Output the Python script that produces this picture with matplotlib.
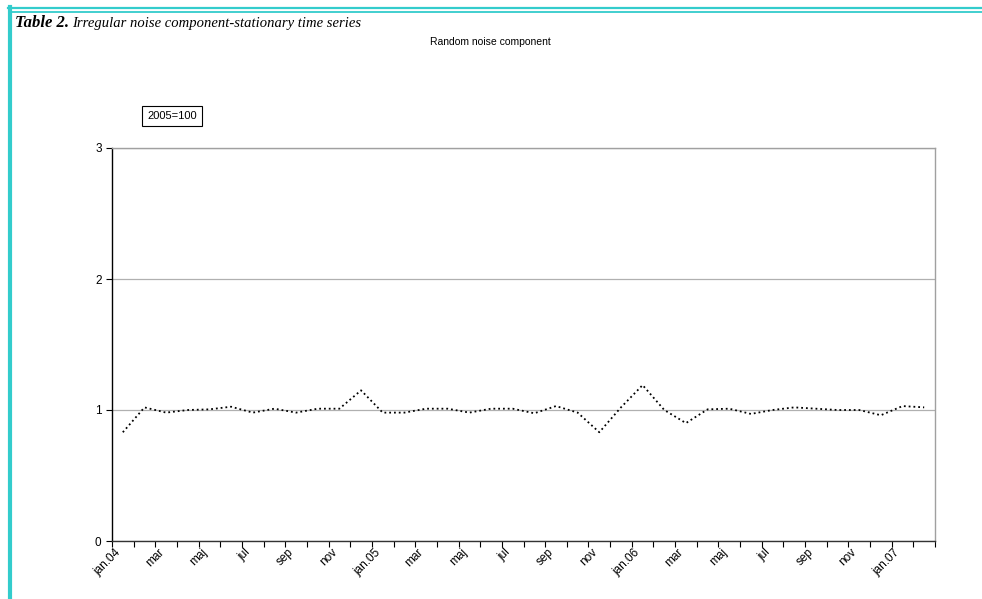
import matplotlib.pyplot as plt
from matplotlib.lines import Line2D

# monthly labels jan.04 .. feb.07
months = ['jan.04', 'feb', 'mar', 'apr', 'maj', 'jun', 'jul', 'aug', 'sep', 'okt', 'nov', 'dec',
          'jan.05', 'feb', 'mar', 'apr', 'maj', 'jun', 'jul', 'aug', 'sep', 'okt', 'nov', 'dec',
          'jan.06', 'feb', 'mar', 'apr', 'maj', 'jun', 'jul', 'aug', 'sep', 'okt', 'nov', 'dec',
          'jan.07', 'feb']
noise = [0.83, 1.02, 0.98, 1.00, 1.005, 1.025, 0.98, 1.01, 0.98, 1.01, 1.01, 1.15,
         0.98, 0.98, 1.01, 1.01, 0.98, 1.01, 1.01, 0.975, 1.03, 0.98, 0.83, 1.02,
         1.19, 1.00, 0.90, 1.005, 1.01, 0.97, 1.00, 1.02, 1.01, 1.00, 1.00, 0.96, 1.03, 1.02]
yticks = [0, 1, 2, 3]

W, H = 982, 599
fig = plt.figure(figsize=(W / 100, H / 100), dpi=100)
plt.rcParams['font.family'] = ['Liberation Sans', 'DejaVu Sans']

# cyan frame of the page (double line on top, thick line on the left)
cyan = '#33CCCC'
fig.add_artist(Line2D([8 / W, 1], [1 - 8 / H, 1 - 8 / H], color=cyan, lw=1.6, transform=fig.transFigure))
fig.add_artist(Line2D([12 / W, 1], [1 - 12 / H, 1 - 12 / H], color=cyan, lw=1.3, transform=fig.transFigure))
fig.add_artist(Line2D([10 / W, 10 / W], [0, 1 - 7 / H], color=cyan, lw=3, transform=fig.transFigure))

fig.text(15 / W, 1 - 23 / H, 'Table 2.', fontsize=12, family='Liberation Serif',
         style='italic', weight='bold', va='center')
fig.text(72 / W, 1 - 23 / H, 'Irregular noise component-stationary time series', fontsize=10.5,
         family='Liberation Serif', style='italic', va='center')
fig.text(490 / W, 1 - 42 / H, 'Random noise component', fontsize=7.5, ha='center', va='center')

ax = fig.add_axes([112 / W, (H - 541) / H, (935 - 112) / W, (541 - 148) / H])
x = list(range(len(noise)))
ax.plot(x, noise, color='black', linestyle=':', linewidth=1.3)

ax.set_xlim(-0.5, len(noise) - 0.5)
ax.set_ylim(0, 3)
ax.set_yticks(yticks)
ax.set_yticklabels([str(v) for v in yticks], fontsize=8.5)
ax.tick_params(axis='y', direction='out', length=4, width=0.8)
ax.yaxis.grid(True, color='#b0b0b0', linewidth=0.9)
ax.set_axisbelow(True)

ax.set_xticks(x[::2])
ax.set_xticklabels(months[::2], rotation=45, ha='right', va='top', fontsize=8.5)
ax.set_xticks([i - 0.5 for i in range(len(noise) + 1)], minor=True)
ax.tick_params(axis='x', which='major', length=0, pad=4)
ax.tick_params(axis='x', which='minor', direction='out', length=4, width=0.8)

ax.spines['left'].set_color('black')
ax.spines['bottom'].set_color('#333333')
ax.spines['top'].set_color('#a0a0a0')
ax.spines['right'].set_color('#a0a0a0')
for s in ax.spines.values():
    s.set_linewidth(1.0)

fig.text(172 / W, 1 - 116 / H, '2005=100', fontsize=8, ha='center', va='center',
         bbox=dict(boxstyle='square,pad=0.45', facecolor='white', edgecolor='black', linewidth=0.8))

plt.savefig('out.png', dpi=100)
